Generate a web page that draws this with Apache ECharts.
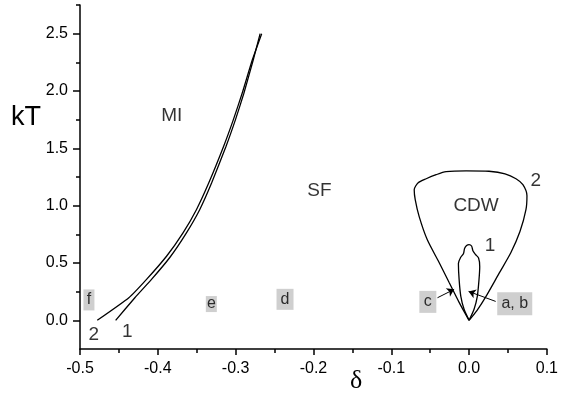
<!DOCTYPE html>
<html>
<head>
<meta charset="utf-8">
<script src="https://cdn.jsdelivr.net/npm/echarts@6/dist/echarts.min.js"></script>
<style>
html, body { margin: 0; padding: 0; background: #fff; }
#main { width: 561px; height: 397px; }
</style>
</head>
<body>
<div id="main"></div>
<script>
// phase boundaries, points are [delta, kT]
var miLine1 = [[-0.4542,0],[-0.4295,0.197],[-0.4081,0.357],[-0.3846,0.548],[-0.3632,0.763],
    [-0.3462,0.965],[-0.3309,1.197],[-0.3124,1.516],[-0.3003,1.748],[-0.2894,1.98],[-0.2774,2.27],[-0.2685,2.5]];
var miLine2 = [[-0.4778,0],[-0.4372,0.197],[-0.4145,0.357],[-0.3888,0.559],[-0.3676,0.763],
    [-0.3504,0.965],[-0.3346,1.197],[-0.3155,1.516],[-0.303,1.748],[-0.2916,1.98],[-0.2786,2.27],[-0.2665,2.5]];
var cdwLine1 = [[0,0],[-0.0064,0.096],[-0.0106,0.209],[-0.0128,0.357],[-0.0137,0.496],[-0.0109,0.548],
    [-0.0071,0.583],[-0.0058,0.626],[-0.0032,0.652],[0,0.661],[0.0032,0.648],[0.0051,0.604],[0.0083,0.574],
    [0.0122,0.543],[0.0137,0.47],[0.0128,0.357],[0.0106,0.209],[0.0064,0.096],[0,0]];
var cdwLine2 = [[0,0],[-0.0128,0.157],[-0.0256,0.33],[-0.0385,0.504],[-0.0538,0.704],[-0.0641,0.904],
    [-0.0692,1.052],[-0.0705,1.139],[-0.0654,1.2],[-0.0551,1.235],[-0.0423,1.27],[-0.0295,1.296],
    [-0.0038,1.304],[0.0256,1.3],[0.0462,1.278],[0.0603,1.235],[0.0692,1.183],[0.0744,1.087],
    [0.0731,0.965],[0.0654,0.774],[0.0538,0.591],[0.0385,0.409],[0.0218,0.209],[0.0103,0.087],[0,0]];

var yMajor = [0, 0.5, 1.0, 1.5, 2.0, 2.5];
var yMinor = [0.25, 0.75, 1.25, 1.75, 2.25, 2.75];

// grey boxed markers
var boxLabels = ['f', 'e', 'd', 'c', 'a, b'];
var boxPos = [[-0.4885,0.178],[-0.3312,0.142],[-0.2365,0.183],[-0.053,0.161],[0.0587,0.145]];

// plain text in the plot
var noteLabels = ['MI', 'SF', 'CDW', '1', '2', '2', '1'];
var notePos = [[-0.382,1.78],[-0.1923,1.126],[0.009,1.0],[0.0269,0.648],[0.0859,1.217],[-0.4823,-0.122],[-0.4391,-0.1]];

// arrows c -> outer curve, a,b -> inner curve
var arrowFrom = [[-0.0406,0.197],[0.0342,0.165]];
var arrowTo = [[-0.0192,0.27],[-0.0006,0.252]];

var boxSize = [[11,21],[11,16],[17,21],[17,22],[35,23]];
var FONT = 'Liberation Sans, Arial, sans-serif';

function fmt(v) {
    if (Math.abs(v) < 1e-9) return '0.0';
    return v.toFixed(1);
}

function curve(data, sm) {
    return {
        type: 'line',
        data: data,
        symbol: 'none',
        smooth: sm,
        lineStyle: { color: '#000', width: 1.3 },
        silent: true
    };
}

var myChart = echarts.init(document.getElementById('main'));
var option = {
    animation: false,
    backgroundColor: '#fff',
    grid: { left: 80, right: 13, top: 5, bottom: 48 },
    xAxis: {
        type: 'value',
        min: -0.5,
        max: 0.1,
        interval: 0.1,
        axisLine: { onZero: false, lineStyle: { color: '#000', width: 1.5 } },
        axisTick: { length: 6, lineStyle: { color: '#000', width: 1.5 } },
        minorTick: { show: true, splitNumber: 2, length: 4, lineStyle: { color: '#000', width: 1.5 } },
        splitLine: { show: false },
        axisLabel: { color: '#000', fontSize: 16, fontFamily: FONT, margin: 12, formatter: fmt }
    },
    yAxis: [
        {
            type: 'value',
            min: -0.25,
            max: 2.75,
            interval: 0.25,
            axisLine: { show: true, onZero: false, lineStyle: { color: '#000', width: 1.5 } },
            axisTick: { show: true, length: 7, customValues: yMajor, lineStyle: { color: '#000', width: 1.5 } },
            splitLine: { show: false },
            axisLabel: { color: '#000', fontSize: 16, fontFamily: FONT, margin: 12, customValues: yMajor, formatter: fmt }
        },
        {
            type: 'value',
            position: 'left',
            offset: 0,
            min: -0.25,
            max: 2.75,
            interval: 0.25,
            axisLine: { show: false, onZero: false },
            axisTick: { show: true, length: 4, customValues: yMinor, lineStyle: { color: '#000', width: 1.5 } },
            splitLine: { show: false },
            axisLabel: { show: false }
        }
    ],
    graphic: [
        { type: 'text', left: 11, top: 104, style: { text: 'kT', fontSize: 27, fontFamily: FONT, fill: '#000' } },
        { type: 'text', left: 350, top: 368, style: { text: 'δ', fontSize: 26, fontFamily: 'Liberation Serif, serif', fill: '#000' } }
    ],
    series: [
        curve(miLine1, 0.15),
        curve(miLine2, 0.15),
        curve(cdwLine2, 0.25),
        Object.assign(curve(cdwLine1, 0.25), {
            markLine: {
                silent: true,
                symbol: ['none', 'arrow'],
                symbolSize: 7,
                label: { show: false },
                lineStyle: { color: '#000', width: 1, type: 'solid' },
                data: arrowFrom.map(function (p, i) {
                    return [{ coord: p }, { coord: arrowTo[i] }];
                })
            }
        }),
        {
            type: 'scatter',
            symbol: 'rect',
            silent: true,
            data: boxLabels.map(function (t, i) {
                return { name: t, value: boxPos[i], symbolSize: boxSize[i] };
            }),
            itemStyle: { color: '#c3c3c3' },
            label: { show: true, position: 'inside', formatter: '{b}', color: '#000', fontSize: 16, fontFamily: FONT }
        },
        {
            type: 'scatter',
            symbolSize: 1,
            silent: true,
            clip: false,
            data: noteLabels.map(function (t, i) {
                return { name: t, value: notePos[i] };
            }),
            itemStyle: { color: 'rgba(0,0,0,0)' },
            label: { show: true, position: 'inside', formatter: '{b}', color: '#000', fontSize: 19, fontFamily: FONT }
        }
    ]
};
myChart.setOption(option);
</script>
</body>
</html>
